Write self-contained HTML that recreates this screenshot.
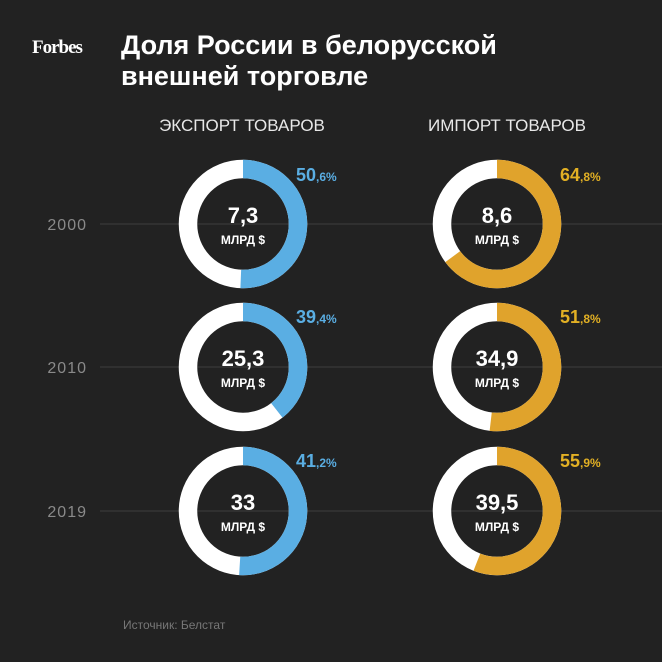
<!DOCTYPE html>
<html><head><meta charset="utf-8"><style>
html,body{margin:0;padding:0;background:#222222;}
svg{display:block}
text{font-family:"Liberation Sans","DejaVu Sans",sans-serif}
</style></head><body>
<svg width="662" height="662" viewBox="0 0 662 662">
<rect width="662" height="662" fill="#222222"/>
<text x="32" y="53" fill="#fff" style="font-family:'Liberation Serif',serif" font-weight="bold" font-size="19" letter-spacing="-1">Forbes</text>
<text x="121" y="54" fill="#fff" font-weight="bold" font-size="27">Доля России в белорусской</text>
<text x="121" y="85" fill="#fff" font-weight="bold" font-size="27">внешней торговле</text>
<text x="242" y="131" fill="#e8e8e8" font-size="17" text-anchor="middle">ЭКСПОРТ ТОВАРОВ</text>
<text x="507" y="131" fill="#e8e8e8" font-size="17" text-anchor="middle">ИМПОРТ ТОВАРОВ</text>
<g stroke="#3e3e3e" stroke-width="1">
<line x1="100" y1="224" x2="662" y2="224"/>
<line x1="100" y1="367" x2="662" y2="367"/>
<line x1="100" y1="511" x2="662" y2="511"/>
</g>
<g fill="#8a8a8a" font-size="16" text-anchor="end" letter-spacing="1">
<text x="87" y="230">2000</text><text x="87" y="373">2010</text><text x="87" y="517">2019</text>
</g>
<g fill="none" stroke-width="18.5">
<circle cx="243" cy="224" r="55" stroke="#fff"/>
<circle cx="243" cy="224" r="55" stroke="#5aaee3" stroke-dasharray="174.9 400" transform="rotate(-90 243 224)"/>
<circle cx="243" cy="367" r="55" stroke="#fff"/>
<circle cx="243" cy="367" r="55" stroke="#5aaee3" stroke-dasharray="136.2 400" transform="rotate(-90 243 367)"/>
<circle cx="243" cy="511" r="55" stroke="#fff"/>
<circle cx="243" cy="511" r="55" stroke="#5aaee3" stroke-dasharray="176 400" transform="rotate(-90 243 511)"/>
<circle cx="497" cy="224" r="55" stroke="#fff"/>
<circle cx="497" cy="224" r="55" stroke="#e0a32c" stroke-dasharray="224 400" transform="rotate(-90 497 224)"/>
<circle cx="497" cy="367" r="55" stroke="#fff"/>
<circle cx="497" cy="367" r="55" stroke="#e0a32c" stroke-dasharray="179 400" transform="rotate(-90 497 367)"/>
<circle cx="497" cy="511" r="55" stroke="#fff"/>
<circle cx="497" cy="511" r="55" stroke="#e0a32c" stroke-dasharray="193.2 400" transform="rotate(-90 497 511)"/>
</g>
<g fill="#fff" font-weight="bold" text-anchor="middle">
<text x="243" y="223" font-size="22">7,3</text><text x="243" y="244" font-size="12">МЛРД $</text>
<text x="243" y="366" font-size="22">25,3</text><text x="243" y="387" font-size="12">МЛРД $</text>
<text x="243" y="510" font-size="22">33</text><text x="243" y="531" font-size="12">МЛРД $</text>
<text x="497" y="223" font-size="22">8,6</text><text x="497" y="244" font-size="12">МЛРД $</text>
<text x="497" y="366" font-size="22">34,9</text><text x="497" y="387" font-size="12">МЛРД $</text>
<text x="497" y="510" font-size="22">39,5</text><text x="497" y="531" font-size="12">МЛРД $</text>
</g>
<g font-weight="bold" fill="#5aaee3">
<text x="296" y="181" font-size="18">50<tspan font-size="12">,6%</tspan></text>
<text x="296" y="323" font-size="18">39<tspan font-size="12">,4%</tspan></text>
<text x="296" y="467" font-size="18">41<tspan font-size="12">,2%</tspan></text>
</g>
<g font-weight="bold" fill="#e2b024">
<text x="560" y="181" font-size="18">64<tspan font-size="12">,8%</tspan></text>
<text x="560" y="323" font-size="18">51<tspan font-size="12">,8%</tspan></text>
<text x="560" y="467" font-size="18">55<tspan font-size="12">,9%</tspan></text>
</g>
<text x="123" y="629" fill="#777" font-size="12">Источник: Белстат</text>
</svg>
</body></html>
